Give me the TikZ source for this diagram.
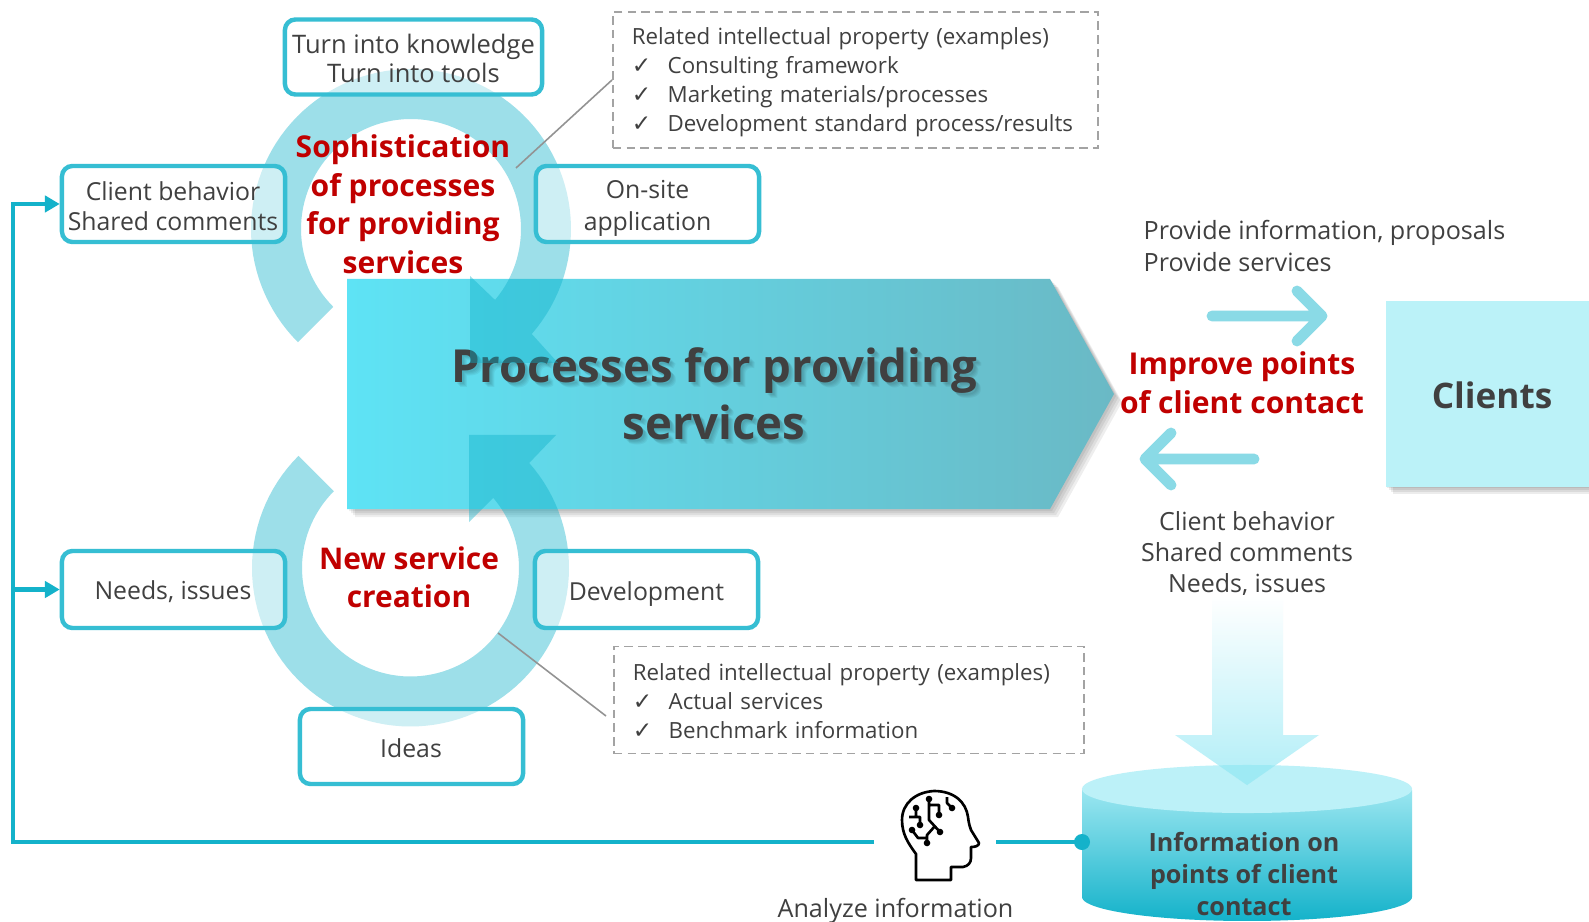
\documentclass[tikz,border=0pt]{standalone}
\usepackage{fontspec}
\setmainfont{Open Sans}
\newfontfamily\ckfont{DejaVu Sans}
\usetikzlibrary{arrows.meta,calc}
\definecolor{ink}{HTML}{404040}
\definecolor{teal}{HTML}{36BED3}
\definecolor{deep}{HTML}{14B2CA}
\definecolor{redt}{HTML}{C00000}
\definecolor{ringc}{HTML}{0AAFC8}
\definecolor{arrowc}{HTML}{8ADAE6}
\definecolor{pale}{HTML}{BBF2F8}
\definecolor{dashc}{HTML}{A3A3A3}
\newcommand{\tf}{\fontsize{7.05}{8.25}\selectfont}
\newcommand{\df}{\fontsize{6.34}{8.25}\selectfont}
\newcommand{\ck}{\makebox[10.2pt][l]{\ckfont\fontsize{6.6}{8}\selectfont ✓}}
\tikzset{
  tbox/.style={draw=teal,line width=1.25pt,rounded corners=3pt,fill=white,fill opacity=.5,inner sep=0pt},
  dbox/.style={draw=dashc,line width=.45pt,dash pattern=on 2.4pt off 1.5pt,align=left,text=ink,font=\df,
    inner ysep=0pt,inner xsep=.19cm,anchor=west},
  plain/.style={align=center,text=ink,font=\tf,inner sep=0pt},
  redlab/.style={align=center,text=redt,font=\fontsize{8.55}{10.95}\selectfont\bfseries,inner sep=0pt},
  bus/.style={draw=deep,line width=1.15pt},
  thin arrow/.style={draw=arrowc,line width=3.1pt,line cap=round,line join=round},
  ringfill/.style={fill=ringc,fill opacity=.4},
  leader/.style={draw=gray!85,line width=.45pt},
  brain/.style={draw=black,line width=.75pt,line join=round},
  bdot/.style={fill=black},
  bustip/.style={-{Triangle[length=4.2pt,width=4.6pt]}}
}
\begin{document}
\begin{tikzpicture}[x=.01cm,y=-.01cm]
\useasboundingbox (0,0) rectangle (1589,922);
\fill[white] (0,0) rectangle (1589,922);

% main block shadow and block
\foreach \d in {2,4,6,8}{
  \fill[black,opacity=.065] (347+\d,279+\d) -- (1050+\d,279+\d) -- (1114+\d,394+\d) -- (1050+\d,509+\d) -- (347+\d,509+\d) -- cycle;
}
\shade[left color={rgb,255:red,94;green,227;blue,245},right color={rgb,255:red,106;green,185;blue,197}]
  (347,279) -- (1050,279) -- (1114,394) -- (1050,509) -- (347,509) -- cycle;

% main text
\foreach \d in {2,3,4,5}{
  \node[align=center,text=black,opacity=.05,inner sep=0pt,font=\fontsize{12.95}{16.3}\selectfont\bfseries] (mainsh\d) at (714+\d,394+\d) {Processes for providing\\services};
}
\node[align=center,text=ink,inner sep=0pt,font=\fontsize{12.95}{16.3}\selectfont\bfseries] (maintext) at (714,394) {Processes for providing\\services};

% upper ring with head
\fill[ringfill]
  plot[domain=135:401,samples=90] ({411+160*cos(\x)},{229+160*sin(\x)})
  -- (558,363) -- (470,363) -- (470,276) -- (494,299)
  -- plot[domain=400:135,samples=90] ({411+110*cos(\x)},{229+110*sin(\x)}) -- cycle;
% lower ring with head
\fill[ringfill]
  plot[domain=225:-41.5,samples=90] ({410.5+158.5*cos(\x)},{568+158.5*sin(\x)})
  -- (556,435) -- (469,435) -- (469,522) -- (493,498)
  -- plot[domain=-40.5:225,samples=90] ({410.5+108.5*cos(\x)},{568+108.5*sin(\x)}) -- cycle;

% boxes
\node[tbox,minimum width=2.57cm,minimum height=.75cm] (know) at (413.5,57) {};
\node[tbox,minimum width=2.23cm,minimum height=.76cm] (behav) at (173.5,204) {};
\node[tbox,minimum width=2.23cm,minimum height=.76cm] (onsite) at (647.5,204) {};
\node[tbox,minimum width=2.23cm,minimum height=.77cm] (needs) at (173.5,589.5) {};
\node[tbox,minimum width=2.23cm,minimum height=.77cm] (devel) at (646.5,589.5) {};
\node[tbox,minimum width=2.23cm,minimum height=.75cm] (ideas) at (411.5,746.5) {};
\node[plain,font=\fontsize{7.25}{8.25}\selectfont] (knowt) at (413.5,58) {Turn into knowledge\\Turn into tools};
\node[plain,font=\fontsize{7.05}{8.6}\selectfont] (behavt) at (173,206) {Client behavior\\Shared comments};
\node[plain,font=\fontsize{7.05}{9.2}\selectfont] (onsitet) at (647.5,208.5) {On-site\\application};
\node[plain] (needst) at (173,592) {Needs, issues};
\node[plain] (develt) at (646.5,594) {Development};
\node[plain] (ideast) at (411,748.5) {Ideas};

% red labels
\node[redlab] (soph) at (403,204) {Sophistication\\of processes\\for providing\\services};
\node[redlab,font=\fontsize{8.5}{10.95}\selectfont\bfseries] (newserv) at (409,577.5) {New service\\creation};
\node[redlab] (improve) at (1242,382.5) {Improve points\\of client contact};

% dashed boxes
\node[dbox,text width=4.47cm,minimum height=1.36cm] (dtop) at (612,80) {\rule{0pt}{6pt}Related intellectual property (examples)\\
\ck\hspace{0pt}Consulting framework\\\ck\hspace{0pt}Marketing materials/processes\\\ck\hspace{0pt}Development standard process/results};
\node[dbox,text width=4.32cm,minimum height=1.07cm] (dbot) at (613,700) {\rule{0pt}{5.6pt}Related intellectual property (examples)\\
\ck\hspace{0pt}Actual services\\\ck\hspace{0pt}Benchmark information};
\coordinate (ltop) at (516,168);
\coordinate (lbot) at (498,633);
\coordinate (lbotend) at (606,716);
\draw[leader] (ltop) -- (dtop.west);
\draw[leader] (lbot) -- (lbotend);

% clients
\foreach \d in {2,4,6,8}{
  \fill[black,opacity=.075] (1385+\d,300+\d) rectangle (1600,486+\d);
}
\node[fill=pale,minimum width=2.1cm,minimum height=1.86cm,inner sep=0pt,anchor=north west] (clientsbox) at (1385,300) {};
\node[text=ink,inner sep=0pt,font=\fontsize{10}{12}\selectfont\bfseries] (clients) at (1492,395) {Clients};

% thin arrows
\coordinate (ua) at (1212,316); \coordinate (ub) at (1322,316);
\coordinate (uc) at (1297,291); \coordinate (ud) at (1297,341);
\draw[thin arrow] (ua) -- (ub) (uc) -- (ub) -- (ud);
\coordinate (la) at (1254,459); \coordinate (lb) at (1145,459);
\coordinate (lc) at (1171,433); \coordinate (ld) at (1171,485);
\draw[thin arrow] (la) -- (lb) (lc) -- (lb) -- (ld);

\node[plain,align=left,anchor=west,font=\fontsize{7.15}{9.1}\selectfont] (provide) at (1143,246) {Provide information, proposals\\Provide services};
\node[plain,font=\fontsize{7.1}{8.8}\selectfont] (behav2) at (1247,554) {Client behavior\hspace{3pt}\\Shared comments\\Needs, issues};

% cylinder
\shade[top color={rgb,255:red,154;green,230;blue,240},bottom color=deep]
  plot[domain=180:360,samples=50] ({1247+165*cos(\x)},{790+0*sin(\x)})
  -- plot[domain=0:180,samples=50] ({1247+165*cos(\x)},{897+24*sin(\x)}) -- cycle;
\fill[fill={rgb,255:red,188;green,241;blue,248}] (1247,789) ellipse [x radius=1.65cm,y radius=.24cm];

% big down arrow
\shade[top color=white,bottom color={rgb,255:red,176;green,238;blue,247}]
  (1212,595) -- (1283,595) -- (1283,735) -- (1319,735) -- (1247,785) -- (1175,735) -- (1212,735) -- cycle;
\begin{scope}
  \clip (1247,789) ellipse [x radius=1.65cm,y radius=.24cm];
  \fill[fill={rgb,255:red,158;green,234;blue,244}] (1319,735) -- (1247,785) -- (1175,735) -- cycle;
\end{scope}
\node[align=center,text=ink,inner sep=0pt,font=\fontsize{7.15}{9.1}\selectfont\bfseries] (cyltext) at (1244,874) {Information on\\points of client\\contact};

% bus lines
\coordinate (dot) at (1082,842);
\coordinate (iconr) at (996,842);
\coordinate (iconl) at (874,842);
\coordinate (corner) at (13,842);
\coordinate (top) at (13,204);
\coordinate (mid) at (13,589.5);
\draw[bus] (iconr) -- (dot);
\fill[deep] (dot) circle[radius=.08cm];
\draw[bus,line join=miter] (iconl) -- (corner) -- (top) -- (40,204);
\draw[bus,bustip] (top) -- (behav.west);
\draw[bus,bustip] (mid) -- (needs.west);

% brain icon
\draw[brain] (916,880) -- (916,854)
  .. controls (908,843) and (902,834) .. (902,820)
  .. controls (902,803) and (916,792) .. (934,791)
  .. controls (954,791) and (966,802) .. (968,817)
  .. controls (969,825) and (970,827) .. (971,830)
  -- (979,843) .. controls (979,846) and (975,847) .. (971,847)
  -- (971,858) .. controls (971,863) and (968,866) .. (963,867)
  -- (951,867) -- (951,880) -- cycle;
\draw[brain] (929,799) -- (929,820) -- (940,832)
  (929,805) -- (939,805) -- (939,815)
  (935,826) -- (927,835) -- (927,843)
  (912,830) -- (918,838) -- (927,838)
  (916,808) -- (916,817) (909,817) -- (920,817) -- (920,825)
  (947,797) -- (947,803) -- (952,808);
\foreach \p in {(929,799),(940,832),(939,815),(927,843),(912,830),(916,808),(920,825),(952,808)}{
  \fill[bdot] \p circle[radius=.033cm];
}
\node[plain,font=\fontsize{7.15}{8.25}\selectfont] (analyze) at (895.5,911) {Analyze information};
\end{tikzpicture}
\end{document}
